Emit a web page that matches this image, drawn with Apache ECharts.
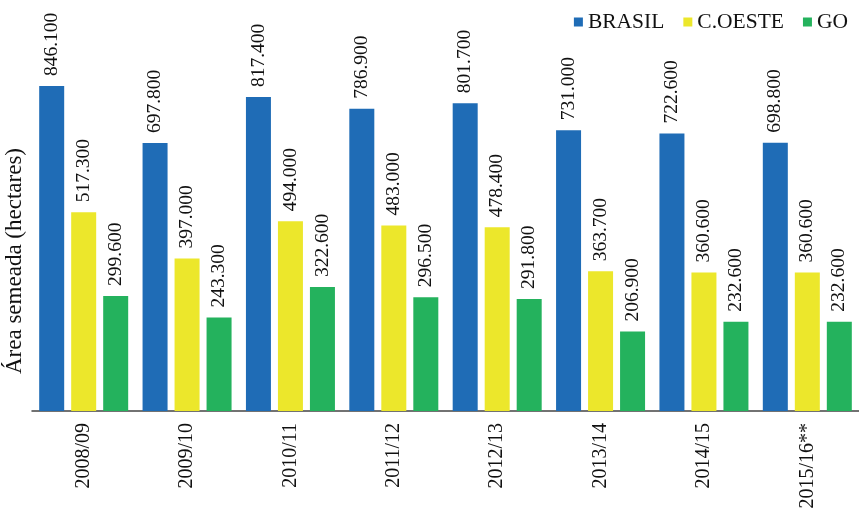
<!DOCTYPE html>
<html><head><meta charset="utf-8">
<script src="https://cdn.jsdelivr.net/npm/echarts@6/dist/echarts.min.js"></script>
<style>html,body{margin:0;padding:0;background:#fff}#c{width:859px;height:514px}</style>
</head><body><div id="c"></div>
<script>
const categories = ['2008/09','2009/10','2010/11','2011/12','2012/13','2013/14','2014/15','2015/16**'];
const brasil = [846.1, 697.8, 817.4, 786.9, 801.7, 731.0, 722.6, 698.8];
const coeste = [517.3, 397.0, 494.0, 483.0, 478.4, 363.7, 360.6, 360.6];
const go = [299.6, 243.3, 322.6, 296.5, 291.8, 206.9, 232.6, 232.6];
const seriesNames = ['BRASIL', 'C.OESTE', 'GO'];
const yAxisTitle = 'Área semeada (hectares)';

const font = 'Liberation Serif';
const colors = ['#1f6cb6', '#ece72b', '#24b25d'];
function fmt(v){ return v.toFixed(3); }
const lbl = {
  show: true, position: 'top', rotate: 90, align: 'left', verticalAlign: 'middle',
  distance: 10, fontFamily: font, fontSize: 19.5, color: '#111',
  formatter: p => fmt(p.value)
};
const chart = echarts.init(document.getElementById('c'));
chart.setOption({
  animation: false,
  color: colors,
  textStyle: { fontFamily: font },
  legend: {
    top: 6, right: 6, itemWidth: 9, itemHeight: 9, itemGap: 19, icon: 'rect',
    textStyle: { fontFamily: font, fontSize: 21.5, color: '#111' },
    data: seriesNames
  },
  graphic: [{
    type: 'text', x: 3, y: 148, rotation: Math.PI/2,
    style: { text: yAxisTitle, font: '23px "Liberation Serif"', fill: '#111', align: 'right', verticalAlign: 'top' }
  }],
  grid: { left: 32, right: 0, top: 27, bottom: 103 },
  xAxis: {
    type: 'category', data: categories,
    axisLine: { lineStyle: { color: '#444', width: 1.5 } },
    axisTick: { show: false },
    axisLabel: { rotate: 90, margin: 12, fontFamily: font, fontSize: 20, color: '#111', interval: 0 }
  },
  yAxis: {
    type: 'value', min: 0, max: 1000,
    axisLine: { show: false }, axisTick: { show: false },
    axisLabel: { show: false }, splitLine: { show: false }
  },
  series: [
    { name: seriesNames[0], type: 'bar', data: brasil, barWidth: 25, barGap: '28%', label: lbl },
    { name: seriesNames[1], type: 'bar', data: coeste, barWidth: 25, barGap: '28%', label: lbl },
    { name: seriesNames[2], type: 'bar', data: go, barWidth: 25, barGap: '28%', label: lbl }
  ]
});
</script></body></html>
